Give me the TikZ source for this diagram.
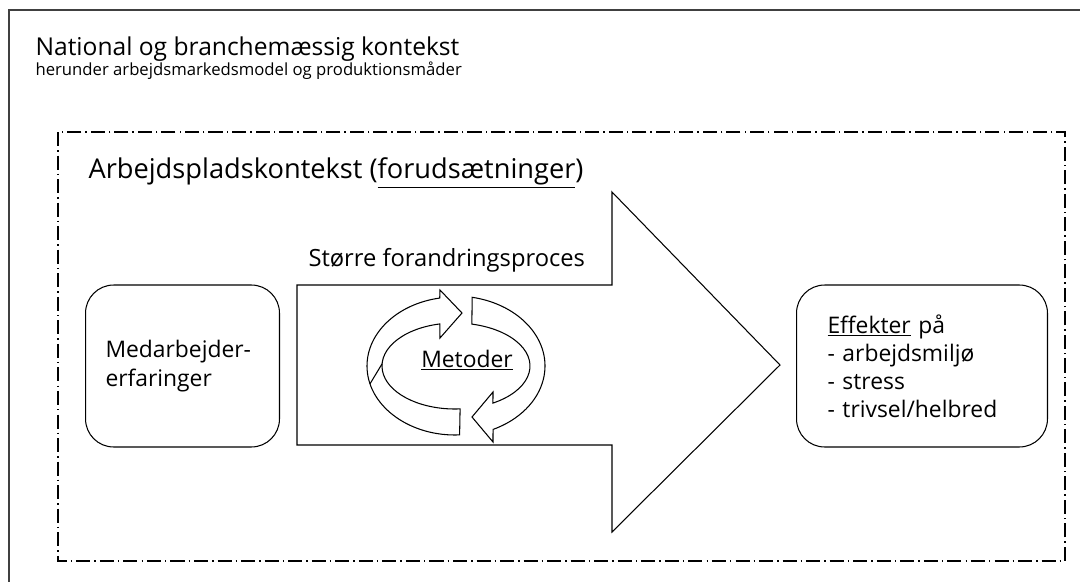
\documentclass[tikz,border=0pt]{standalone}
\usepackage{fontspec}
\setmainfont{Open Sans}
\usetikzlibrary{calc}

\begin{document}
\begin{tikzpicture}[x=0.02cm,y=-0.02cm,line width=0.6pt,
	dashdot/.style={line width=0.6pt,dash pattern=on 8pt off 2.3pt on 0.8pt off 2.3pt},
	roundbox/.style={draw,rounded corners=16pt,minimum height=3.24cm,align=left,
		font=\fontsize{13}{16}\selectfont,anchor=west},
	band/.style={draw,fill=white,line join=miter}]
	\useasboundingbox (0,0) rectangle (1080,582);
	
	% national context, outer frame
	\draw[line width=0.9pt,black!75] (9,600) -- (9,10) -- (1100,10);
	\node[anchor=base west,inner sep=0pt,font=\fontsize{14}{17}\selectfont] (natl) at (35,55) {National og branchem\ae ssig kontekst};
	\node[anchor=base west,inner sep=0pt,font=\fontsize{9.5}{12}\selectfont] (natlsub) at (35,75) {herunder arbejdsmarkedsmodel og produktionsm\aa der};
	
	% workplace context
	\draw[dashdot] (58,132) rectangle (1065,561);
	\node[anchor=base west,inner sep=0pt,font=\fontsize{15.5}{18}\selectfont] (arbpl) at (88,178) {Arbejdspladskontekst (\underline{foruds\ae tninger})};
	
	% big arrow
	\def\ax{297}  % shaft left
	\def\hx{612}  % head base
	\coordinate (A1) at (\ax,285);
	\coordinate (A2) at (\hx,285);
	\coordinate (A3) at (\hx,192);
	\coordinate (Tip) at (780,365);
	\coordinate (A4) at (\hx,532);
	\coordinate (A5) at (\hx,445);
	\coordinate (A6) at (\ax,445);
	\draw[line join=miter] (A1) -- (A2) -- (A3) -- (Tip) -- (A4) -- (A5) -- (A6) -- cycle;
	\node[anchor=base west,inner sep=0pt,font=\fontsize{13.5}{15}\selectfont] (proces) at (308,266) {St\o rre forandringsproces};
	
	% boxes
	\node[roundbox,font=\fontsize{13}{17}\selectfont,minimum width=3.88cm,inner xsep=0.4cm,text width=3.08cm] (medarb) at (85,366) {Medarbejder-\\erfaringer};
	\node[roundbox,minimum width=5.02cm,inner xsep=0.62cm,text width=3.78cm] (effekt) at (796,366)
		{\underline{Effekter} p\aa\\- arbejdsmilj\o\\- stress\\- trivsel/helbred};
	
	% cycle of methods
	\coordinate (M) at (455,366);
	% left band, from tail at the bottom round to the head at the top
	\draw[band] ($(M)+(87:88 and 69)$) arc[start angle=87,end angle=260,x radius=88,y radius=69]
		-- (440,290) -- (462,313) -- (440,338)
		-- ($(M)+(258:73 and 43)$) arc[start angle=258,end angle=86,x radius=73,y radius=43] -- cycle;
	\draw ($(M)+(165:88 and 69)$) -- ($(M)+(183:73 and 43)$);
	% right band, from tail at the top round to the head at the bottom
	\draw[band] ($(M)+(-79:90 and 70)$) arc[start angle=-79,end angle=65,x radius=90,y radius=70]
		-- (493,442) -- (472,417) -- (493,392)
		-- ($(M)+(59.6:75 and 43)$) arc[start angle=59.6,end angle=-77,x radius=75,y radius=43] -- cycle;
	\node[anchor=base,inner sep=0pt,font=\fontsize{13}{15}\selectfont] (metoder) at (467,367) {\underline{Metoder}};
\end{tikzpicture}
\end{document}
